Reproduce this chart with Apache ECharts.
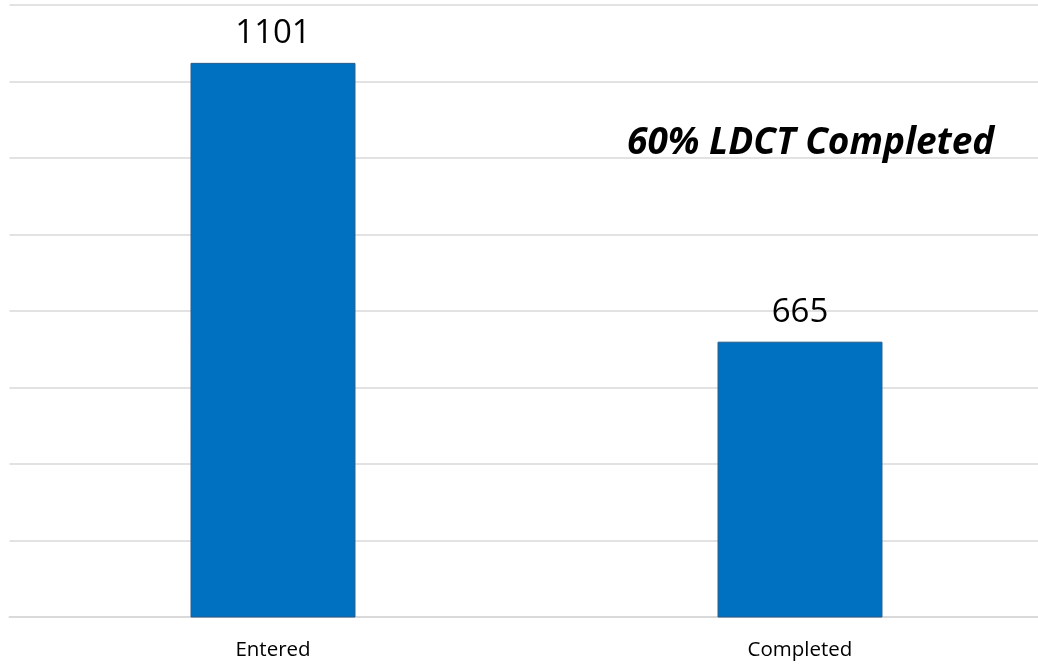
<!DOCTYPE html>
<html>
<head>
<meta charset="utf-8">
<script src="https://cdn.jsdelivr.net/npm/echarts@6/dist/echarts.min.js"></script>
<style>
  html, body { margin: 0; padding: 0; background: #ffffff; }
  #chart { width: 1038px; height: 670px; }
</style>
</head>
<body>
<div id="chart"></div>
<script>
// Screening funnel: patients entered vs. LDCT scans completed
const categories = ['Entered', 'Completed'];
const counts = [1101, 665];
const note = '60% LDCT Completed';

// Value range of the count axis and the number of horizontal guide bands
const countMin = 234.5;
const countMax = 1191.5;
const bands = 8;

const chart = echarts.init(document.getElementById('chart'), null, { renderer: 'canvas' });

chart.setOption({
  animation: false,
  backgroundColor: '#ffffff',
  title: {
    text: note,
    left: 622,
    top: 120,
    textStyle: {
      fontFamily: 'Open Sans',
      fontStyle: 'italic',
      fontWeight: 'bold',
      fontSize: 37,
      color: '#000000'
    }
  },
  grid: {
    left: 9.5,
    top: 5,
    width: 1054,
    bottom: 53,
    containLabel: false,
    outerBoundsMode: 'none'
  },
  xAxis: {
    type: 'category',
    data: categories,
    axisLine: { show: true, lineStyle: { color: '#d9d9d9', width: 2 } },
    axisTick: { show: false },
    axisLabel: {
      margin: 23,
      fontFamily: 'Open Sans',
      fontSize: 20.5,
      color: '#000000'
    }
  },
  yAxis: [
    {
      // guide bands only
      type: 'value',
      min: 0,
      max: bands,
      interval: 1,
      axisLine: { show: false },
      axisTick: { show: false },
      axisLabel: { show: false },
      splitLine: { show: true, lineStyle: { color: '#d9d9d9', width: 1.5 } }
    },
    {
      type: 'value',
      min: countMin,
      max: countMax,
      axisLine: { show: false },
      axisTick: { show: false },
      axisLabel: { show: false },
      splitLine: { show: false }
    }
  ],
  series: [{
    type: 'bar',
    yAxisIndex: 1,
    data: counts,
    barWidth: '31.3%',
    itemStyle: { color: '#0070c0', borderColor: '#2a5b8a', borderWidth: 1 },
    label: {
      show: true,
      position: 'top',
      distance: 13,
      fontFamily: 'Open Sans',
      fontSize: 33,
      color: '#000000'
    },
    z: 3
  }]
});
</script>
</body>
</html>
